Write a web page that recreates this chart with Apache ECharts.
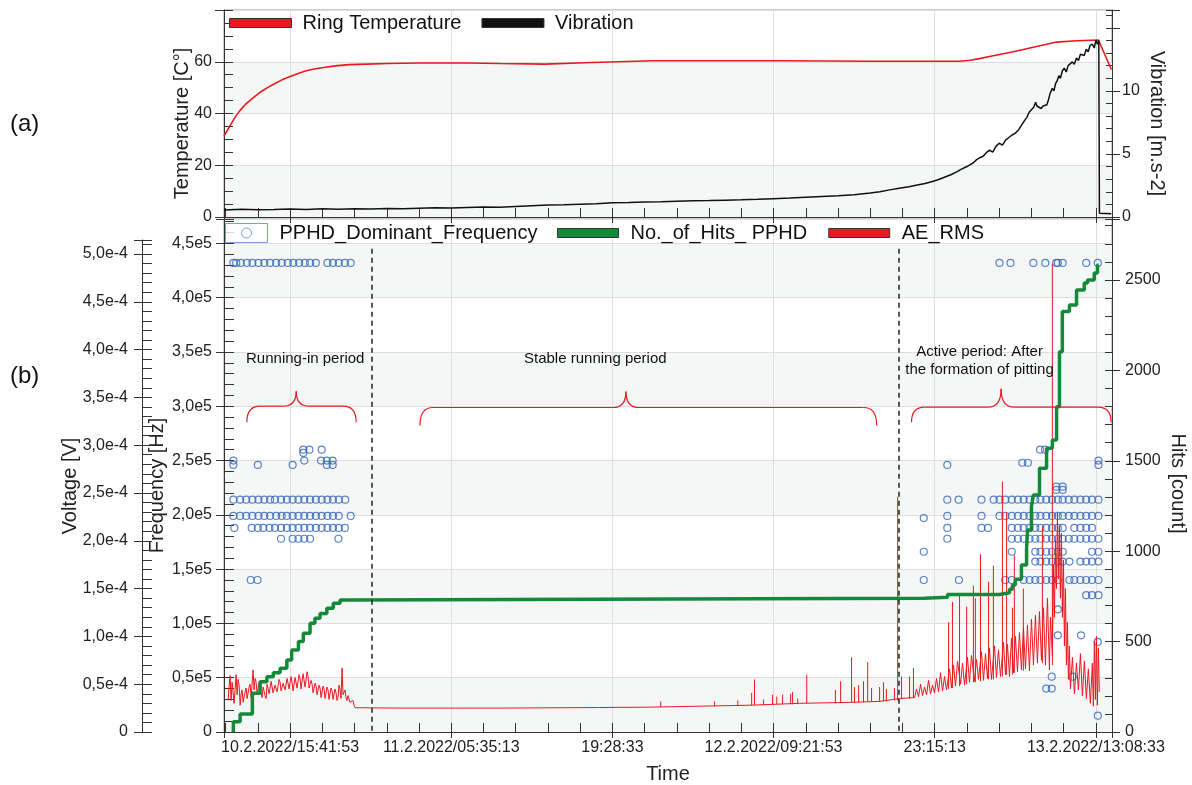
<!DOCTYPE html>
<html>
<head>
<meta charset="utf-8">
<script src="https://cdn.jsdelivr.net/npm/echarts@6/dist/echarts.min.js"></script>
<style>html,body{margin:0;padding:0;background:#fff}#chart{width:1192px;height:785px}</style>
</head>
<body>
<div id="chart"></div>
<script>
// Time unit: kiloseconds relative to 10.2.2022/15:41:53
const timeTickValues = [0, 50, 100, 150, 200, 250];
const timeTickLabels = ['10.2.2022/15:41:53', '11.2.2022/05:35:13', '19:28:33', '12.2.2022/09:21:53', '23:15:13', '13.2.2022/13:08:33'];
const tempTickValues = [0, 20, 40, 60];
const tempTickLabels = ['0', '20', '40', '60'];
const vibTickValues = [0, 5, 10];
const vibTickLabels = ['0', '5', '10'];
const freqTickValues = [0, 50000, 100000, 150000, 200000, 250000, 300000, 350000, 400000, 450000];
const freqTickLabels = ['0', '0,5e5', '1,0e5', '1,5e5', '2,0e5', '2,5e5', '3,0e5', '3,5e5', '4,0e5', '4,5e5'];
const voltTickValues = [0, 50, 100, 150, 200, 250, 300, 350, 400, 450, 500]; // µV
const voltTickLabels = ['0', '0,5e-4', '1,0e-4', '1,5e-4', '2,0e-4', '2,5e-4', '3,0e-4', '3,5e-4', '4,0e-4', '4,5e-4', '5,0e-4'];
const hitsTickValues = [0, 500, 1000, 1500, 2000, 2500];
const hitsTickLabels = ['0', '500', '1000', '1500', '2000', '2500'];

// (a) Ring temperature [°C]
const ringTemperature = [[-20.5,31.3],[-19,34.5],[-17.1,38.5],[-15.5,41.2],[-13.8,43.6],[-11.5,46.0],[-9.4,48.1],[-7,50.0],[-5,51.4],[-2.5,53.0],[0,54.3],[2.5,55.5],[5,56.5],[7.5,57.2],[10.5,57.8],[14,58.4],[18.3,58.9],[23.9,59.1],[30,59.3],[40.3,59.5],[55,59.5],[65,59.3],[79,59.1],[93.6,59.7],[112.5,60.4],[152.2,60.4],[179.8,60.2],[207.7,60.2],[211,60.6],[213.9,61.2],[217,62.0],[220.1,62.8],[224,63.8],[228.5,65.0],[233,66.3],[237.8,67.6],[244,68.1],[250.8,68.4],[254.8,57.0]];
// (a) Vibration [m.s-2]
const vibration = [[-20.5,0.55],[-15,0.62],[-10,0.58],[-5,0.6],[0,0.63],[5,0.6],[10,0.66],[15,0.62],[20,0.65],[25,0.63],[30,0.68],[35,0.66],[40,0.7],[45,0.74],[50,0.72],[55,0.76],[60,0.8],[65,0.78],[70,0.84],[75,0.9],[80,0.95],[85,0.98],[90,1.02],[95,1.06],[100,1.12],[105,1.14],[110,1.18],[115,1.2],[120,1.25],[125,1.28],[130,1.3],[135,1.33],[140,1.36],[145,1.4],[150,1.45],[155,1.5],[160,1.56],[165,1.62],[170,1.68],[175,1.76],[180,1.9],[183,2.0],[186,2.15],[189,2.28],[192,2.4],[195,2.55],[197,2.65],[199,2.8],[201,2.95],[203,3.15],[205,3.35],[207,3.6],[208,3.75],[210,4.0],[211,4.15],[212,4.3],[213,4.55],[214,4.7],[215,4.82],[216,5.1],[217,5.3],[218,5.15],[219,5.6],[220,5.85],[221,5.7],[222,6.1],[223,6.3],[224,6.5],[225,6.65],[226,6.9],[227,7.3],[228,7.7],[228.6,7.9],[229.3,8.3],[230,8.5],[230.7,8.7],[231.3,9.1],[231.7,8.8],[232.3,8.7],[233,8.6],[233.6,8.8],[234.2,8.7],[234.8,8.9],[235.3,9.3],[235.8,9.8],[236.5,10.2],[237,10.0],[237.5,10.6],[238,10.8],[238.5,11.2],[239,11.0],[239.6,11.6],[240.2,11.8],[240.8,11.5],[241.4,12.0],[242,12.1],[242.7,12.3],[243.3,12.1],[244,12.6],[244.6,12.4],[245.2,12.9],[245.8,13.0],[246.4,12.8],[247,13.3],[247.6,13.1],[248.2,13.6],[248.9,13.7],[249.5,13.4],[250,14.0],[250.5,13.7],[250.9,14.0],[251.1,0.3],[254.8,0.25]];

// (b) No. of hits (cumulative)
const hitsPPHD = [[-17.6,0],[-17.6,57],[-15.5,100],[-11.7,214],[-9.3,278],[-7.2,306],[-5.2,328],[-3.1,352],[-1.0,398],[0.5,453],[2.6,500],[4.1,546],[6.2,601],[7.7,629],[9.3,656],[11.4,684],[13.4,712],[15.5,730],[17.6,740],[196.8,745],[204.0,760],[220.1,770],[223.2,790],[224.1,813],[225.0,845],[226.9,924],[228.5,1016],[228.8,1117],[230.0,1246],[230.6,1311],[232.5,1458],[234.7,1569],[236.5,1615],[237.8,1799],[238.7,2103],[239.6,2325],[241.8,2362],[244.0,2445],[246.4,2483],[247.4,2500],[249.5,2539],[250.5,2583],[250.8,2583]];

// (b) AE_RMS trace [µV]
const aeRmsTrace = [[-19.22,33],[-18.91,48],[-18.6,59],[-18.29,33],[-17.98,52],[-17.67,54],[-17.36,30],[-17.05,45],[-16.74,60],[-16.43,39],[-16.12,55],[-15.81,49],[-15.5,28],[-15.19,40],[-14.88,44],[-14.57,31],[-14.26,29],[-13.95,42],[-13.64,46],[-13.33,35],[-13.02,33],[-12.71,47],[-12.4,50],[-12.09,36],[-11.78,38],[-11.47,65],[-11.16,44],[-10.85,56],[-10.54,52],[-10.23,41],[-9.92,39],[-9.61,51],[-9.3,50],[-8.99,40],[-8.68,36],[-8.37,47],[-8.06,48],[-7.75,38],[-7.44,35],[-7.13,50],[-6.82,49],[-6.51,40],[-6.2,38],[-5.89,53],[-5.58,51],[-5.27,41],[-4.96,39],[-4.65,49],[-4.34,50],[-4.03,42],[-3.72,40],[-3.41,55],[-3.1,52],[-2.79,43],[-2.48,41],[-2.17,51],[-1.86,53],[-1.55,44],[-1.24,42],[-0.93,56],[-0.62,54],[-0.31,45],[0,44],[0.31,58],[0.62,52],[0.93,43],[1.24,42],[1.55,57],[1.86,55],[2.17,46],[2.48,44],[2.79,60],[3.1,56],[3.41,45],[3.72,46],[4.03,61],[4.34,59],[4.65,47],[4.96,48],[5.27,63],[5.58,58],[5.89,46],[6.2,44],[6.51,54],[6.82,50],[7.13,41],[7.44,43],[7.75,51],[8.06,48],[8.37,39],[8.68,40],[8.99,49],[9.3,46],[9.61,36],[9.92,38],[10.23,48],[10.54,45],[10.85,35],[11.16,37],[11.47,47],[11.78,44],[12.09,34],[12.4,36],[12.71,46],[13.02,43],[13.33,34],[13.64,35],[13.95,45],[14.26,41],[14.57,33],[14.88,36],[15.19,49],[15.5,44],[15.81,35],[16.12,67],[16.43,39],[16.74,41],[17.05,44],[17.36,36],[17.67,33],[17.98,38],[18.29,40],[18.6,31],[18.91,29],[19.22,31],[19.53,33],[19.84,28],[20.15,25.4],[34.1,25],[49.6,25],[65.1,25],[80.6,25.3],[96.1,25.6],[111.6,26],[127.1,27],[142.6,28],[158.1,30],[173.6,31],[182.9,32],[189.1,35],[193.74,36],[194.36,45],[194.98,37],[195.6,50],[196.22,38],[196.84,47],[197.46,39],[198.08,54],[198.7,40],[199.32,49],[199.94,41],[200.56,56],[201.18,42],[201.8,62],[202.42,43],[203.04,58],[203.66,44],[204.59,66],[205.21,46],[205.83,70],[206.45,48],[207.07,74],[208.0,50],[208.62,72],[209.24,49],[210.17,78],[210.79,52],[211.41,80],[212.34,53],[212.96,76],[213.58,55],[214.51,84],[215.13,54],[215.75,82],[216.37,56],[216.99,88],[217.61,55],[218.54,90],[219.16,57],[219.78,86],[220.4,58],[221.33,94],[221.95,60],[222.57,92],[223.19,58],[223.81,98],[224.43,62],[225.05,100],[225.67,63],[226.29,104],[226.91,65],[227.53,110],[228.15,66],[228.77,112],[229.39,64],[230.01,118],[230.63,70],[231.25,122],[231.87,72],[232.49,126],[233.11,75],[233.73,130],[234.35,70],[234.97,140],[235.59,65],[235.9,120],[236.52,80],[236.83,175],[237.14,120],[237.45,200],[237.76,150],[238.07,229],[238.38,160],[238.69,215],[239.0,140],[239.31,208],[239.62,120],[239.93,180],[240.24,90],[240.55,150],[240.86,70],[241.17,115],[241.48,55],[241.79,90],[242.1,45],[242.72,78],[243.34,40],[243.96,72],[244.58,44],[245.2,82],[245.81,38],[246.43,74],[247.05,35],[247.67,66],[248.29,30],[248.91,72],[249.22,27],[249.53,95],[249.85,34],[250.16,100],[250.46,28],[250.77,88],[251.08,42]];
// (b) AE_RMS isolated spikes: [time, base µV, peak µV]
const aeRmsSpikes = [[115.0,26,32],[131.7,27,32],[138.9,27,33],[143.2,28,41],[144.1,28,55],[146.9,28,34],[149.7,29,39],[151.0,29,37],[152.8,29,39],[155.3,29,40],[155.9,29,42],[157.5,29,35],[160.3,30,60],[169.2,30,44],[170.8,31,53],[174.2,31,78],[175.1,31,47],[176.4,31,49],[177.9,31,53],[179.2,32,73],[180.4,32,46],[182.9,32,47],[184.1,32,52],[185.0,32,45],[187.5,33,46],[188.5,33,246],[189.7,35,58],[192.2,35,58],[193.4,36,67],[204.3,45,115],[205.5,46,136],[207.7,48,145],[209.9,50,131],[212.0,52,153],[212.6,52,140],[214.2,53,186],[216.7,55,157],[218.2,55,174],[221.0,58,262],[222.3,60,229],[224.1,60,130],[224.7,62,185],[227.5,64,150],[233.4,72,215],[236.5,70,490]];

// (b) PPHD dominant frequency rows [Hz] -> times
const pphd432k = [-17.6,-16.7,-15.3,-13.4,-11.7,-9.8,-8.0,-6.2,-4.3,-2.6,-0.7,1.0,2.8,4.6,6.2,8.0,11.6,13.3,15.1,17.0,18.8,220.1,223.5,230.6,234.3,237.7,238.2,239.7,247.0,250.6];
const pphd214k = [-17.6,-15.5,-13.6,-11.7,-9.8,-8.0,-6.2,-4.7,-2.8,-1.0,0.8,2.6,4.4,6.2,8.0,9.8,11.6,13.3,15.1,17.1,203.9,207.4,214.5,218.3,220.1,221.9,223.9,225.8,227.6,229.4,231.2,232.8,234.6,236.4,238.2,239.7,241.6,243.3,245.2,247.0,248.8,250.8];
const pphd199k = [-17.6,-15.5,-13.6,-11.7,-9.8,-8.0,-6.2,-4.3,-2.6,-1.0,0.8,2.6,4.4,6.2,8.0,9.8,11.6,13.3,15.1,18.8,203.9,214.5,220.1,221.9,223.9,225.8,227.6,229.4,231.2,232.8,234.6,236.4,238.2,239.7,241.6,243.3,245.2,247.0,248.8,250.8];
const pphd188k = [-17.3,-11.9,-10.0,-8.3,-6.4,-4.7,-2.8,-1.0,0.8,2.6,4.4,6.2,8.0,9.8,11.6,13.3,15.1,17.0,203.9,214.5,216.5,223.9,225.8,227.6,229.4,231.2,232.8,234.6,236.4,238.2,239.7,243.3,245.2,247.0,248.8];
const pphd178k = [-2.8,0.8,2.6,4.4,6.2,15.0,203.9,223.9,225.8,227.6,229.4,231.2,232.8,234.6,236.4,238.2,239.7,241.6,243.3,245.2,247.0,248.8,250.8];
const pphd166k = [196.6,223.9,231.2,232.8,234.6,236.4,238.2,239.7,248.8,250.8];
const pphd157k = [231.2,232.8,234.6,236.4,238.2,239.7,241.8,245.2,247.0,248.8,250.8];
const pphd140k = [-12.2,-10.1,196.6,207.5,221.9,223.9,227.6,229.4,231.2,232.8,234.6,236.4,238.2,241.8,243.3,245.2,247.0,248.8,250.8];
const pphdOther = [[-17.6,250000],[-17.6,246000],[-10.0,246000],[0.8,246000],[4.4,250000],[9.6,250000],[11.4,250000],[11.4,246000],[13.2,250000],[13.2,246000],[4.1,260000],[6.0,260000],[9.8,260000],[4.1,257000],[203.9,246000],[227.2,248000],[228.9,248000],[232.7,260000],[234.2,260000],[250.8,250000],[250.8,246000],[237.7,223000],[239.7,223000],[237.7,226000],[239.7,226000],[196.6,197000],[247.0,126000],[248.8,126000],[250.8,126000],[238.2,113000],[238.2,89000],[245.4,89000],[250.6,83000],[236.3,51000],[242.8,51000],[234.6,40000],[236.3,40000],[250.6,15000]];

// Annotations (data units: time ks, Hz)
const periodBoundaries = [25.2, 188.8];
const braceStart = [-13.4, 40.3, 192.8];
const bracePeak = [1.9, 104.2, 220.6];
const braceEnd = [20.5, 182.0, 254.7];
const braceEndHz = [285400, 282300, 285400];
const braceFlatHz = [300100, 298900, 299200];
const bracePeakHz = [313900, 313700, 316100];
const annoText = ['Running-in period', 'Stable running period', 'Active period: After\nthe formation of pitting'];
const annoT = [4.7, 94.7, 213.9];
const annoHz = [344000, 344000, 342000];

const FONT = '"Liberation Sans", Arial, sans-serif';
const RED = '#e8191f', GREEN = '#14893a', BLUE = '#3566ba', BLACK = '#111111';
const X_MIN = -20.5, X_MAX = 255;

function tickFormatter(values, labels) {
  return function (v) {
    for (let i = 0; i < values.length; i++) {
      if (Math.abs(values[i] - v) < 1e-6 * Math.max(1, Math.abs(values[i]))) return labels[i];
    }
    return '';
  };
}

const pphdRows = [[432000, pphd432k], [214000, pphd214k], [199000, pphd199k], [188000, pphd188k], [178000, pphd178k], [166000, pphd166k], [157000, pphd157k], [140000, pphd140k]];
const pphdData = [];
pphdRows.forEach(function (r) { r[1].forEach(function (t) { pphdData.push([t, r[0]]); }); });
pphdOther.forEach(function (p) { pphdData.push(p); });

const braceData = braceStart.map(function (s, i) { return [s, bracePeak[i], braceEnd[i], braceEndHz[i], braceFlatHz[i], bracePeakHz[i]]; });
const annoData = annoT.map(function (t, i) { return [t, annoHz[i]]; });

const tickLine = { color: '#333' };
const labelStyle = { fontSize: 16, color: '#222', fontFamily: FONT };
const nameStyle = { fontSize: 20, color: '#222', fontFamily: FONT };

function xAxisDef(grid, major, extra) {
  return Object.assign({
    type: 'value', gridIndex: grid, position: 'bottom', min: X_MIN, max: X_MAX,
    minInterval: major ? 50 : 10, maxInterval: major ? 50 : 10,
    axisLine: { show: major, onZero: false, lineStyle: { color: '#333' } },
    axisTick: { show: true, inside: !major, length: major ? 6 : 9, lineStyle: tickLine },
    axisLabel: { show: false },
    splitLine: { show: major, lineStyle: { color: '#dedede' } }
  }, extra || {});
}

function yMinor(grid, pos, min, max, interval, len, offset) {
  return {
    type: 'value', gridIndex: grid, position: pos, min: min, max: max, interval: interval, offset: offset || 0,
    axisLine: { show: false, onZero: false }, axisTick: { show: true, inside: true, length: len, lineStyle: tickLine },
    axisLabel: { show: false }, splitLine: { show: false }, splitArea: { show: false }
  };
}

const chart = echarts.init(document.getElementById('chart'));
chart.setOption({
  animation: false,
  backgroundColor: '#fff',
  textStyle: { fontFamily: FONT },
  grid: [
    { left: 224, right: 80, top: 10, height: 207, show: true, borderColor: '#9a9a9a', borderWidth: 1, backgroundColor: 'rgba(0,0,0,0)', outerBoundsMode: 'none' },
    { left: 224, right: 80, top: 219, bottom: 53, show: true, borderColor: '#9a9a9a', borderWidth: 1, backgroundColor: 'rgba(0,0,0,0)', outerBoundsMode: 'none' },
    { left: 224, right: 80, top: 240, bottom: 53, show: false, outerBoundsMode: 'none' }
  ],
  legend: [
    { data: [{ name: 'Ring Temperature', icon: 'rect' }, { name: 'Vibration', icon: 'rect' }],
      left: 229, top: 13, padding: 0, itemWidth: 62, itemHeight: 9, itemGap: 20, selectedMode: false,
      itemStyle: { borderColor: '#333', borderWidth: 1 },
      textStyle: { fontSize: 20, color: '#111', fontFamily: FONT, padding: [0, 0, 0, 6] } },
    { data: [{ name: 'PPHD_Dominant_Frequency', icon: 'path://M0,0H42V19H0Z M21,4.5A5,5 0 1 1 21,14.5A5,5 0 1 1 21,4.5Z', itemStyle: { color: '#fff', borderColor: '#5a86cf', borderWidth: 1 } }],
      left: 225, top: 223, padding: 0, itemWidth: 42, itemHeight: 19, selectedMode: false,
      textStyle: { fontSize: 20, color: '#111', fontFamily: FONT, padding: [0, 0, 0, 7] } },
    { data: [{ name: 'No._of_Hits_ PPHD', icon: 'rect' }, { name: 'AE_RMS', icon: 'rect' }],
      left: 557, top: 223, padding: 0, itemWidth: 61, itemHeight: 9, itemGap: 21, selectedMode: false,
      itemStyle: { borderColor: '#333', borderWidth: 1 },
      textStyle: { fontSize: 20, color: '#111', fontFamily: FONT, padding: [0, 0, 0, 7] } }
  ],
  xAxis: [
    xAxisDef(0, true),
    xAxisDef(0, false),
    xAxisDef(1, true, {
      name: 'Time', nameLocation: 'middle', nameGap: 32, nameTextStyle: nameStyle, nameMoveOverlap: false,
      axisLabel: Object.assign({ show: true, margin: 8, formatter: tickFormatter(timeTickValues, timeTickLabels) }, labelStyle)
    }),
    xAxisDef(1, false),
    { type: 'value', gridIndex: 2, position: 'bottom', min: X_MIN, max: X_MAX, show: false }
  ],
  yAxis: [
    { type: 'value', gridIndex: 0, position: 'left', min: 0, max: 80, interval: 20,
      name: 'Temperature [C°]', nameLocation: 'middle', nameGap: 32, nameMoveOverlap: false,
      nameTextStyle: Object.assign({ padding: [0, 20, 0, 0] }, nameStyle),
      axisLine: { show: true, onZero: false, lineStyle: { color: '#333' } },
      axisTick: { show: true, inside: false, length: 9, lineStyle: tickLine },
      axisLabel: Object.assign({ margin: 12, formatter: tickFormatter(tempTickValues, tempTickLabels) }, labelStyle),
      splitLine: { show: true, lineStyle: { color: '#dedede' } },
      splitArea: { show: true, areaStyle: { color: ['#f5f6f6', 'rgba(255,255,255,0)'] } } },
    yMinor(0, 'left', 0, 80, 5, 9),
    { type: 'value', gridIndex: 0, position: 'right', min: 0, max: 16.41, interval: 5,
      name: 'Vibration [m.s-2]', nameLocation: 'middle', nameGap: 35, nameRotate: -90, nameMoveOverlap: false,
      nameTextStyle: Object.assign({ padding: [0, 0, 0, 20] }, nameStyle),
      axisLine: { show: true, onZero: false, lineStyle: { color: '#333' } },
      axisTick: { show: true, inside: false, length: 8, lineStyle: tickLine },
      axisLabel: Object.assign({ margin: 10, formatter: tickFormatter(vibTickValues, vibTickLabels) }, labelStyle),
      splitLine: { show: false } },
    yMinor(0, 'right', 0, 16.41, 1, 6),
    { type: 'value', gridIndex: 1, position: 'left', min: 0, max: 472500, interval: 50000,
      name: 'Frequency [Hz]', nameLocation: 'middle', nameGap: 57, nameMoveOverlap: false,
      nameTextStyle: Object.assign({ padding: [0, 20, 0, 0] }, nameStyle),
      axisLine: { show: true, onZero: false, lineStyle: { color: '#333' } },
      axisTick: { show: true, inside: false, length: 8, lineStyle: tickLine },
      axisLabel: Object.assign({ margin: 12, formatter: tickFormatter(freqTickValues, freqTickLabels) }, labelStyle),
      splitLine: { show: true, lineStyle: { color: '#dedede' } },
      splitArea: { show: true, areaStyle: { color: ['#f5f6f6', 'rgba(255,255,255,0)'] } } },
    yMinor(1, 'left', 0, 472500, 10000, 10),
    { type: 'value', gridIndex: 1, position: 'right', min: 0, max: 2837, interval: 500,
      name: 'Hits [count]', nameLocation: 'middle', nameGap: 56, nameRotate: -90, nameMoveOverlap: false,
      nameTextStyle: Object.assign({ padding: [0, 0, 0, 16] }, nameStyle),
      axisLine: { show: true, onZero: false, lineStyle: { color: '#333' } },
      axisTick: { show: true, inside: false, length: 8, lineStyle: tickLine },
      axisLabel: Object.assign({ margin: 13, formatter: tickFormatter(hitsTickValues, hitsTickLabels) }, labelStyle),
      splitLine: { show: false } },
    yMinor(1, 'right', 0, 2837, 100, 7),
    { type: 'value', gridIndex: 2, position: 'left', offset: 82, min: 0, max: 514.6, interval: 50,
      name: 'Voltage [V]', nameLocation: 'middle', nameGap: 62, nameMoveOverlap: false,
      nameTextStyle: nameStyle,
      axisLine: { show: true, onZero: false, lineStyle: { color: '#333' } },
      axisTick: { show: true, inside: false, length: 8, lineStyle: tickLine },
      axisLabel: Object.assign({ margin: 14, formatter: tickFormatter(voltTickValues, voltTickLabels) }, labelStyle),
      splitLine: { show: false } },
    yMinor(2, 'left', 0, 514.6, 10, 10, 82)
  ],
  graphic: [
    { type: 'text', left: 10, top: 112, style: { text: '(a)', fontSize: 24, fontFamily: FONT, fill: '#111' } },
    { type: 'text', left: 10, top: 364, style: { text: '(b)', fontSize: 24, fontFamily: FONT, fill: '#111' } }
  ],
  series: [
    { name: 'Ring Temperature', type: 'line', xAxisIndex: 0, yAxisIndex: 0, data: ringTemperature, showSymbol: false, symbol: 'none',
      lineStyle: { color: RED, width: 1.6 }, itemStyle: { color: RED }, z: 3 },
    { name: 'Vibration', type: 'line', xAxisIndex: 0, yAxisIndex: 2, data: vibration, showSymbol: false, symbol: 'none',
      lineStyle: { color: BLACK, width: 1.5 }, itemStyle: { color: BLACK }, z: 3 },
    { name: 'PPHD_Dominant_Frequency', type: 'scatter', xAxisIndex: 2, yAxisIndex: 4, data: pphdData,
      symbol: 'circle', symbolSize: 7,
      itemStyle: { color: 'rgba(255,255,255,0)', borderColor: BLUE, borderWidth: 1.2 }, z: 2,
      markLine: { silent: true, symbol: ['none', 'none'], label: { show: false },
        lineStyle: { color: '#222', type: [5, 4], width: 1.5 },
        data: periodBoundaries.map(function (t) { return [{ coord: [t, 445000] }, { coord: [t, 0] }]; }) } },
    { name: 'AE_RMS', type: 'line', xAxisIndex: 4, yAxisIndex: 8, data: aeRmsTrace, showSymbol: false, symbol: 'none',
      lineStyle: { color: RED, width: 1 }, itemStyle: { color: RED }, z: 3 },
    { name: 'AE_RMS', type: 'custom', xAxisIndex: 4, yAxisIndex: 8, data: aeRmsSpikes, silent: true, z: 3,
      itemStyle: { color: RED },
      renderItem: function (params, api) {
        const a = api.coord([api.value(0), api.value(1)]);
        const b = api.coord([api.value(0), api.value(2)]);
        return { type: 'line', shape: { x1: a[0], y1: a[1], x2: b[0], y2: b[1] }, style: { stroke: RED, lineWidth: 1 } };
      } },
    { name: 'No._of_Hits_ PPHD', type: 'line', xAxisIndex: 2, yAxisIndex: 6, data: hitsPPHD, step: 'end', showSymbol: false, symbol: 'none',
      lineStyle: { color: GREEN, width: 3.5 }, itemStyle: { color: GREEN }, z: 4 },
    { name: 'braces', type: 'custom', xAxisIndex: 2, yAxisIndex: 4, data: braceData, silent: true, z: 5,
      renderItem: function (params, api) {
        const r = 13;
        const pE0 = api.coord([api.value(0), api.value(3)]);
        const pE1 = api.coord([api.value(2), api.value(3)]);
        const pC = api.coord([api.value(1), api.value(5)]);
        const yF = api.coord([api.value(1), api.value(4)])[1];
        const x0 = pE0[0], x1 = pE1[0], xc = pC[0], yE = pE0[1], yP = pC[1];
        const st = { stroke: RED, lineWidth: 1.2, fill: 'none' };
        return { type: 'group', children: [
          { type: 'bezierCurve', shape: { x1: x0, y1: yE, cpx1: x0, cpy1: yF, x2: x0 + r, y2: yF }, style: st },
          { type: 'line', shape: { x1: x0 + r, y1: yF, x2: xc - r, y2: yF }, style: st },
          { type: 'bezierCurve', shape: { x1: xc - r, y1: yF, cpx1: xc, cpy1: yF, x2: xc, y2: yP }, style: st },
          { type: 'bezierCurve', shape: { x1: xc, y1: yP, cpx1: xc, cpy1: yF, x2: xc + r, y2: yF }, style: st },
          { type: 'line', shape: { x1: xc + r, y1: yF, x2: x1 - r, y2: yF }, style: st },
          { type: 'bezierCurve', shape: { x1: x1 - r, y1: yF, cpx1: x1, cpy1: yF, x2: x1, y2: yE }, style: st }
        ] };
      } },
    { name: 'periods', type: 'custom', xAxisIndex: 2, yAxisIndex: 4, data: annoData, silent: true, z: 5,
      renderItem: function (params, api) {
        const p = api.coord([api.value(0), api.value(1)]);
        return { type: 'text', x: p[0], y: p[1], style: { text: annoText[params.dataIndex], align: 'center', verticalAlign: 'middle',
          fontSize: 15, fontFamily: FONT, fill: '#111', lineHeight: 18 } };
      } }
  ]
});
</script>
</body>
</html>
